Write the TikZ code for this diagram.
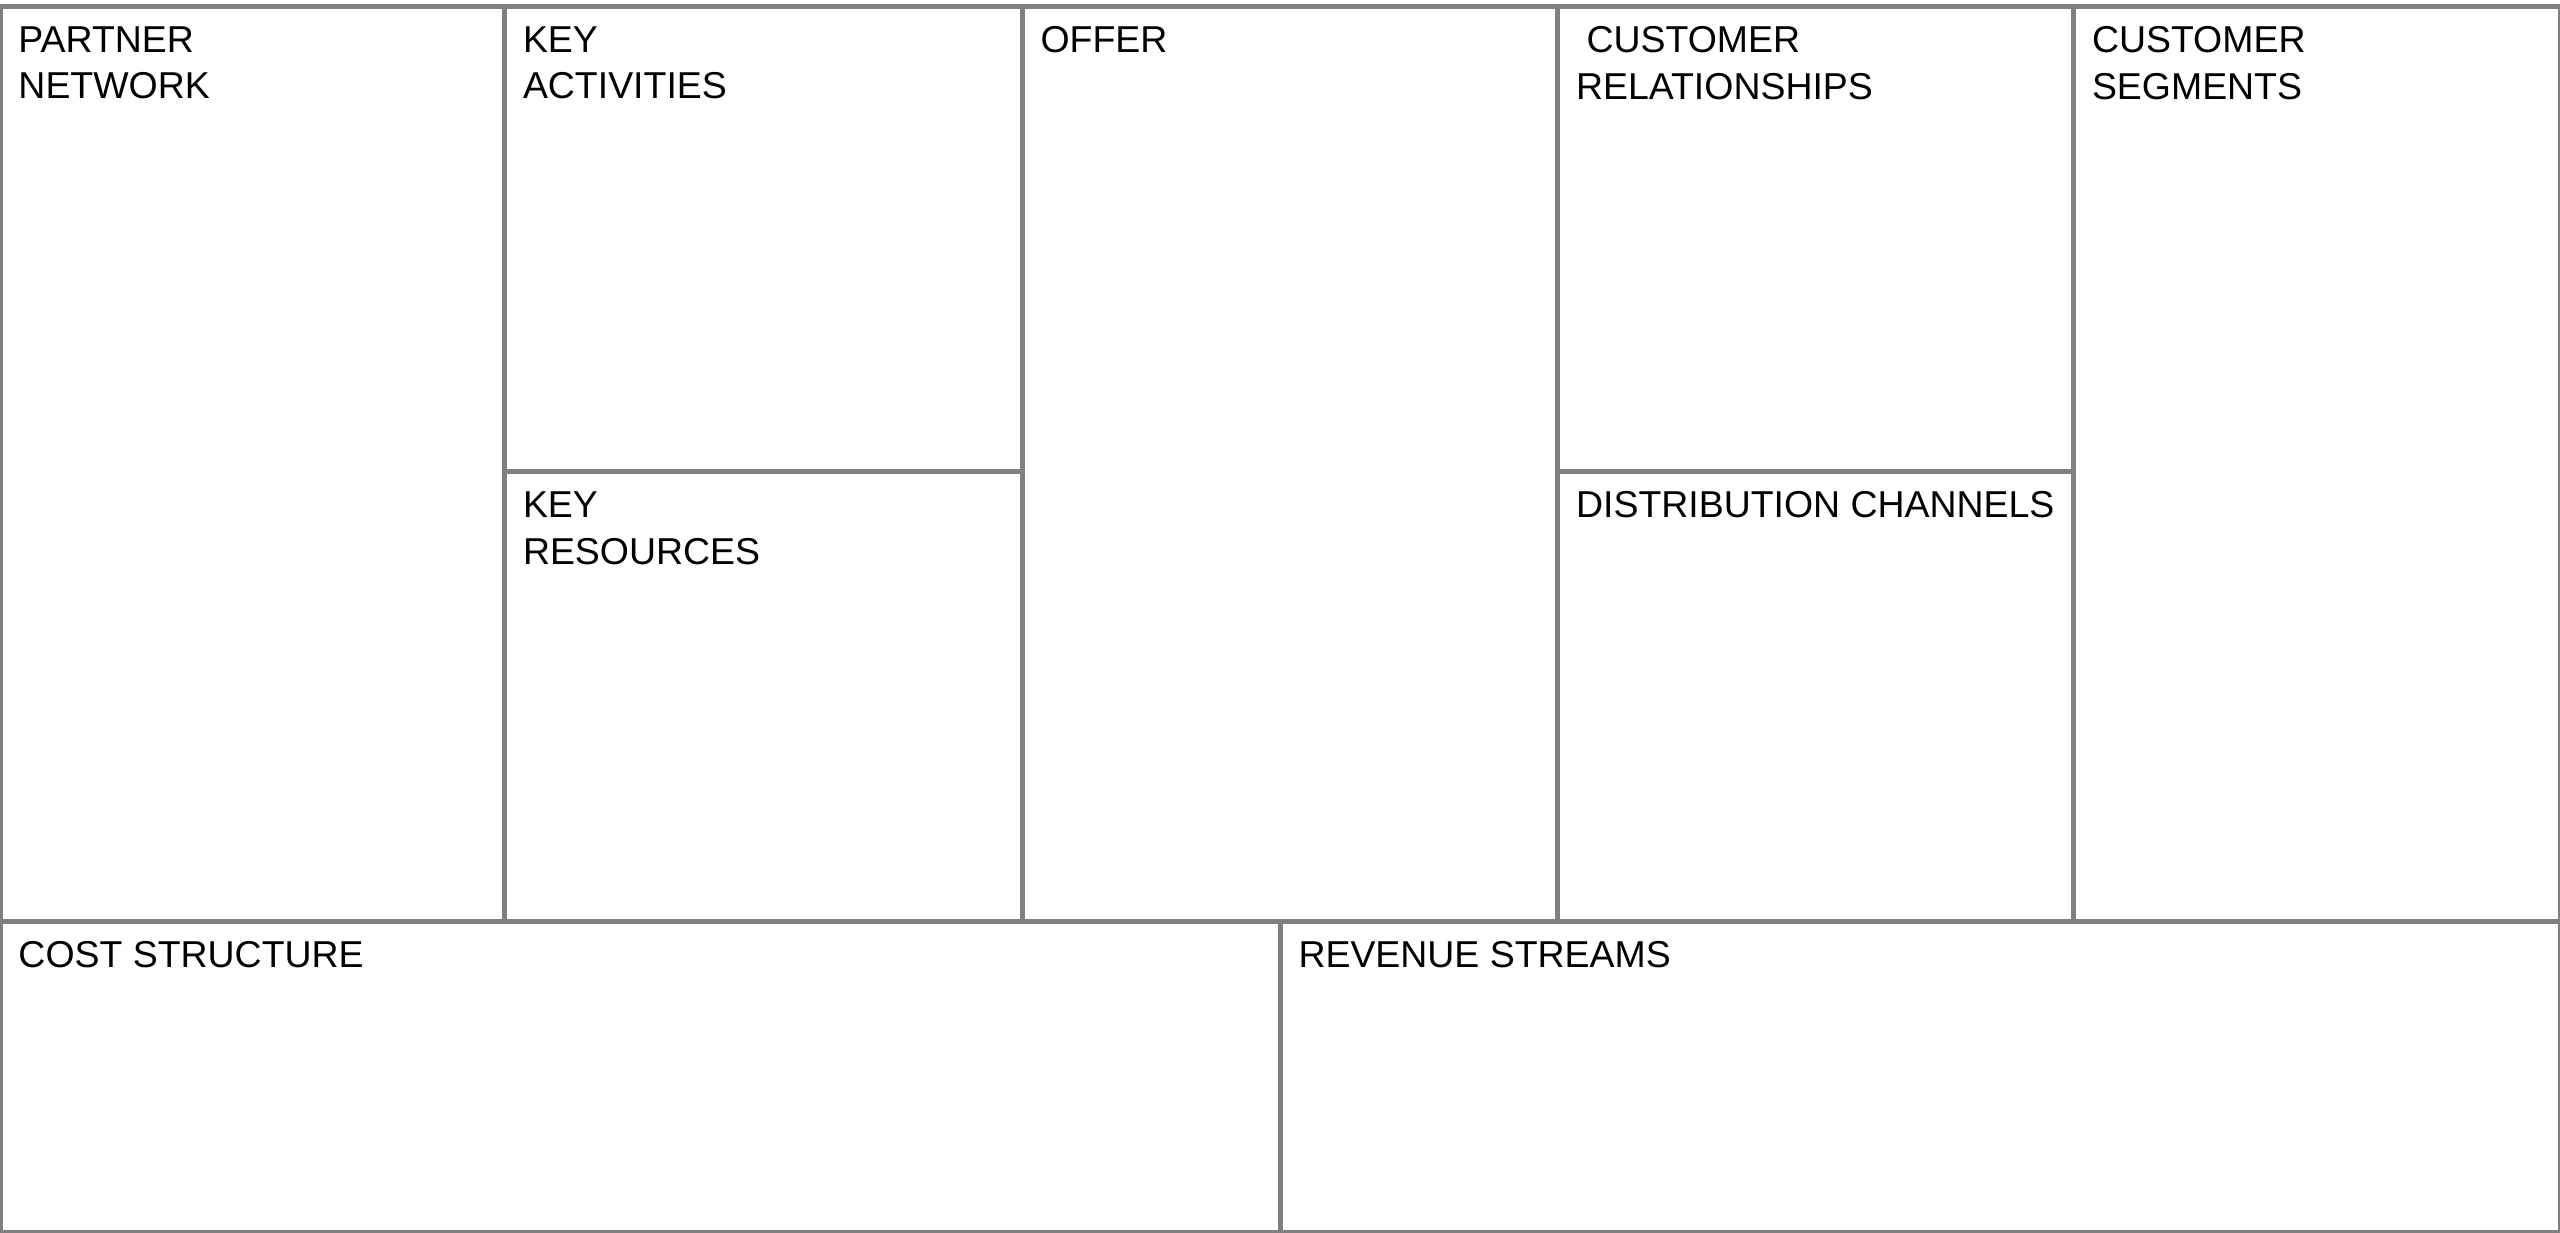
\documentclass[tikz,border=0pt]{standalone}
\usepackage{fontspec}
\setmainfont{Liberation Sans}
\usetikzlibrary{positioning}
\definecolor{gridgray}{HTML}{808080}
\tikzset{cell/.style={rectangle, draw=gridgray, line width=0.05cm, inner sep=0pt, outer sep=0pt, anchor=north west},
    caption/.style={anchor=north west, inner sep=0pt, outer sep=0pt, align=left, text=black, font=\fontsize{10.65}{13.26}\selectfont}}

\begin{document}
\begin{tikzpicture}
    \useasboundingbox (0,0) rectangle (25.6,12.32);
    % upper row of blocks
    \node[cell, minimum width=5.045cm, minimum height=9.145cm] (PN) at (0,12.255) {};
    \node[cell, minimum width=5.175cm, minimum height=4.653cm] (KA) at (PN.north east) {};
    \node[cell, minimum width=5.175cm, minimum height=4.492cm] (KR) at (KA.south west) {};
    \node[cell, minimum width=5.356cm, minimum height=9.145cm] (OF) at (KA.north east) {};
    \node[cell, minimum width=5.159cm, minimum height=4.653cm] (CR) at (OF.north east) {};
    \node[cell, minimum width=5.159cm, minimum height=4.492cm] (DC) at (CR.south west) {};
    \node[cell, minimum width=4.865cm, minimum height=9.145cm] (CS) at (CR.north east) {};
    % lower row
    \node[cell, minimum width=12.80cm, minimum height=3.11cm] (CST) at (PN.south west) {};
    \node[cell, minimum width=12.80cm, minimum height=3.11cm] (RS) at (CST.north east) {};
    % titles
    \node[caption] (PNt) at ([shift={(0.185,-0.20)}]PN.north west) {PARTNER\\NETWORK};
    \node[caption] (KAt) at ([shift={(0.185,-0.20)}]KA.north west) {KEY\\ACTIVITIES};
    \node[caption] (KRt) at ([shift={(0.185,-0.20)}]KR.north west) {KEY\\RESOURCES};
    \node[caption] (OFt) at ([shift={(0.185,-0.20)}]OF.north west) {OFFER};
    \node[caption] (CRt) at ([shift={(0.185,-0.20)}]CR.north west) {\hspace*{0.28em}CUSTOMER\\RELATIONSHIPS};
    \node[caption] (DCt) at ([shift={(0.185,-0.20)}]DC.north west) {DISTRIBUTION CHANNELS};
    \node[caption] (CSt) at ([shift={(0.185,-0.20)}]CS.north west) {CUSTOMER\\SEGMENTS};
    \node[caption] (CSTt) at ([shift={(0.185,-0.20)}]CST.north west) {COST STRUCTURE};
    \node[caption] (RSt) at ([shift={(0.185,-0.20)}]RS.north west) {REVENUE STREAMS};
\end{tikzpicture}
\end{document}
